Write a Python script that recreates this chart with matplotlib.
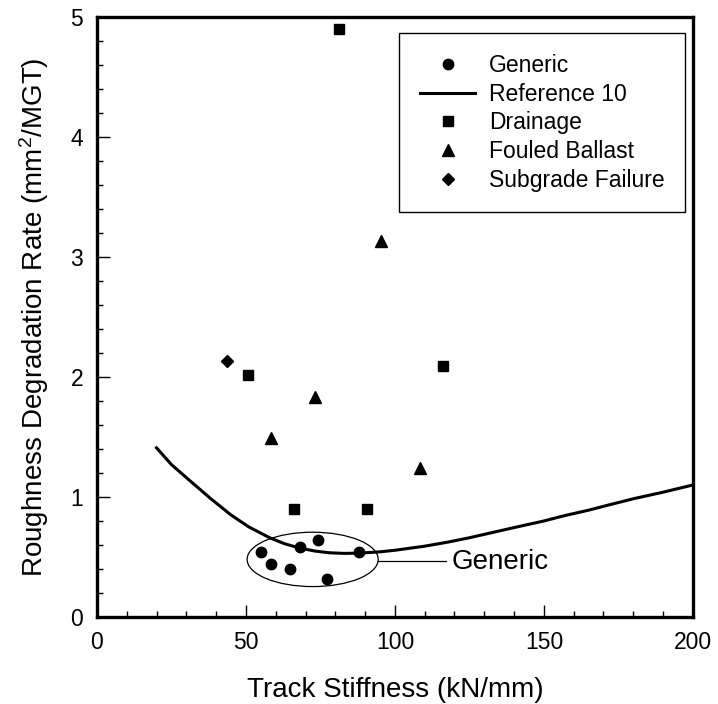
import numpy as np
import matplotlib
matplotlib.use("Agg")
import matplotlib.pyplot as plt
from matplotlib.patches import Ellipse
from matplotlib.ticker import MultipleLocator

plt.rcParams['font.family'] = ['Liberation Sans', 'DejaVu Sans']
plt.rcParams['mathtext.default'] = 'regular'

# data
generic_x = [55.0, 58.4, 64.9, 68.1, 74.2, 77.2, 88.0]
generic_y = [0.54, 0.44, 0.40, 0.58, 0.64, 0.32, 0.54]

drain_x = [81.2, 50.7, 116.2, 66.0, 90.8]
drain_y = [4.90, 2.02, 2.09, 0.90, 0.90]

fouled_x = [95.5, 73.2, 58.5, 108.3]
fouled_y = [3.13, 1.83, 1.49, 1.24]

subgrade_x = [43.5]
subgrade_y = [2.13]

ref_x = [20, 25, 31, 38, 45, 51, 58, 63, 68, 73, 78, 83, 88, 95, 100, 110, 118,
         125, 132, 140, 150, 157, 165, 172, 180, 190, 200]
ref_y = [1.41, 1.27, 1.14, 0.99, 0.85, 0.75, 0.66, 0.61, 0.575, 0.55, 0.535, 0.53,
         0.532, 0.543, 0.556, 0.59, 0.625, 0.66, 0.70, 0.745, 0.80, 0.845, 0.89,
         0.935, 0.985, 1.04, 1.10]

fig = plt.figure(figsize=(7.18, 7.04), dpi=100)
ax = fig.add_axes([0.135, 0.1236, 0.83, 0.8523])

ax.plot(generic_x, generic_y, 'o', color='black', ms=7.5, label='Generic')
ax.plot(ref_x, ref_y, '-', color='black', lw=2.2, label='Reference 10')
ax.plot(drain_x, drain_y, 's', color='black', ms=6.5, label='Drainage')
ax.plot(fouled_x, fouled_y, '^', color='black', ms=8, label='Fouled Ballast')
ax.plot(subgrade_x, subgrade_y, 'D', color='black', ms=6.5, label='Subgrade Failure')

ax.add_patch(Ellipse((72.4, 0.48), 44, 0.453, fill=False, ec='black', lw=0.9))
ax.plot([94.4, 117.3], [0.467, 0.467], color='black', lw=0.9)
ax.text(119.0, 0.46, 'Generic', fontsize=20, va='center', ha='left')

ax.set_xlim(0, 200)
ax.set_ylim(0, 5)
ax.xaxis.set_major_locator(MultipleLocator(50))
ax.xaxis.set_minor_locator(MultipleLocator(10))
ax.yaxis.set_major_locator(MultipleLocator(1))
ax.yaxis.set_minor_locator(MultipleLocator(0.2))
ax.tick_params(which='both', direction='in', top=False, right=False, width=1)
ax.tick_params(which='major', length=9, labelsize=16.5, pad=10)
ax.tick_params(which='minor', length=4)
for s in ax.spines.values():
    s.set_linewidth(2.4)

ax.set_xlabel('Track Stiffness (kN/mm)', fontsize=20, labelpad=17)
ax.set_ylabel('Roughness Degradation Rate (mm$^{2}$/MGT)', fontsize=20, labelpad=14)

leg = ax.legend(loc='upper right', bbox_to_anchor=(0.987, 0.973), fontsize=16.5,
                frameon=True, fancybox=False, edgecolor='black', framealpha=1,
                handlelength=2.4, handletextpad=0.6, labelspacing=0.25,
                borderpad=0.9, borderaxespad=0)
leg.get_frame().set_linewidth(1.0)

fig.savefig('out.png', dpi=100)
